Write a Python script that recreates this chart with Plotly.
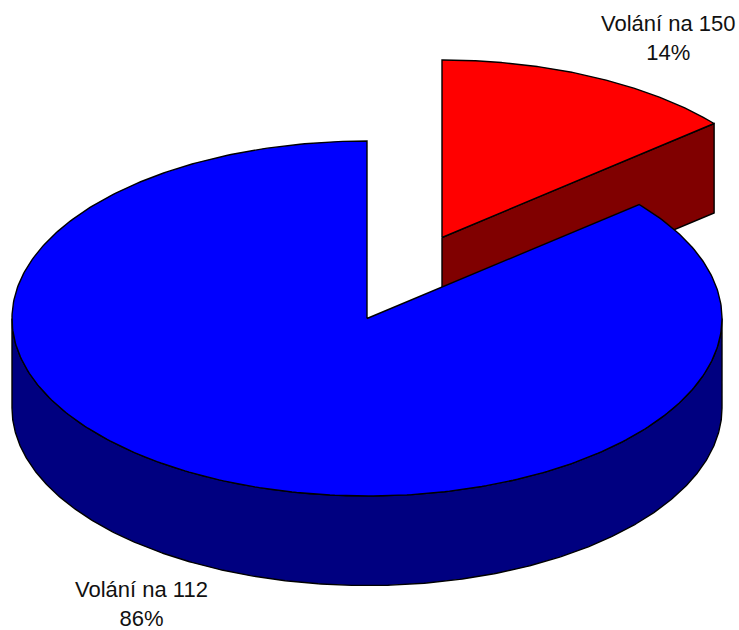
import numpy as np
import plotly.graph_objects as go

labels = ["Volání na 112", "Volání na 150"]
shares = [86.1, 13.9]
top_colors = ["#0000FF", "#FF0000"]
side_colors = ["#000080", "#800000"]

W, H = 739, 630
CX, CY, RX, RY, DEPTH = 367.0, 318.5, 355.0, 177.5, 89.5
OFFSET_X, OFFSET_Y = 75.0, -81.0


def rim(theta_deg, cx, cy):
    t = np.radians(theta_deg)
    return cx + RX * np.sin(t), cy - RY * np.cos(t)


def arc(a, b, cx, cy, n=400):
    return rim(np.linspace(a, b, n), cx, cy)


def poly(fig, x, y, color):
    fig.add_trace(go.Scatter(x=list(x), y=list(y), mode="lines", fill="toself",
                             fillcolor=color, line=dict(color="black", width=1.4),
                             hoverinfo="skip", showlegend=False))


split = shares[1] / sum(shares) * 360.0
fig = go.Figure()

# Exploded small slice: side wall first, then top face
rcx, rcy = CX + OFFSET_X, CY + OFFSET_Y
ex, ey = rim(split, rcx, rcy)
poly(fig, [rcx, ex, ex, rcx, rcx], [rcy, ey, ey + DEPTH, rcy + DEPTH, rcy], side_colors[1])
ax, ay = arc(0, split, rcx, rcy)
poly(fig, [rcx, *ax, rcx], [rcy, *ay, rcy], top_colors[1])

# Large slice: front wall, then top face
ax, ay = arc(90, 270, CX, CY)
bx, by = arc(270, 90, CX, CY + DEPTH)
poly(fig, [*ax, *bx, ax[0]], [*ay, *by, ay[0]], side_colors[0])
ax, ay = arc(split, 360, CX, CY)
poly(fig, [CX, *ax, CX], [CY, *ay, CY], top_colors[0])

font = dict(family="Liberation Sans, Arial, sans-serif", size=22, color="#111111")
fig.add_annotation(x=668, y=38, text=f"{labels[1]}<br>{round(shares[1])}%", showarrow=False,
                   font=font, align="center", xref="x", yref="y")
fig.add_annotation(x=141, y=603.5, text=f"{labels[0]}<br>{round(shares[0])}%", showarrow=False,
                   font=font, align="center", xref="x", yref="y")

fig.update_layout(width=W, height=H, margin=dict(l=0, r=0, t=0, b=0),
                  paper_bgcolor="white", plot_bgcolor="white", showlegend=False,
                  xaxis=dict(range=[0, W], visible=False, fixedrange=True),
                  yaxis=dict(range=[H, 0], visible=False, fixedrange=True))
fig.write_html("out.html", config={"displayModeBar": False},
               post_script="document.body.style.margin='0';document.body.style.overflow='hidden';")
